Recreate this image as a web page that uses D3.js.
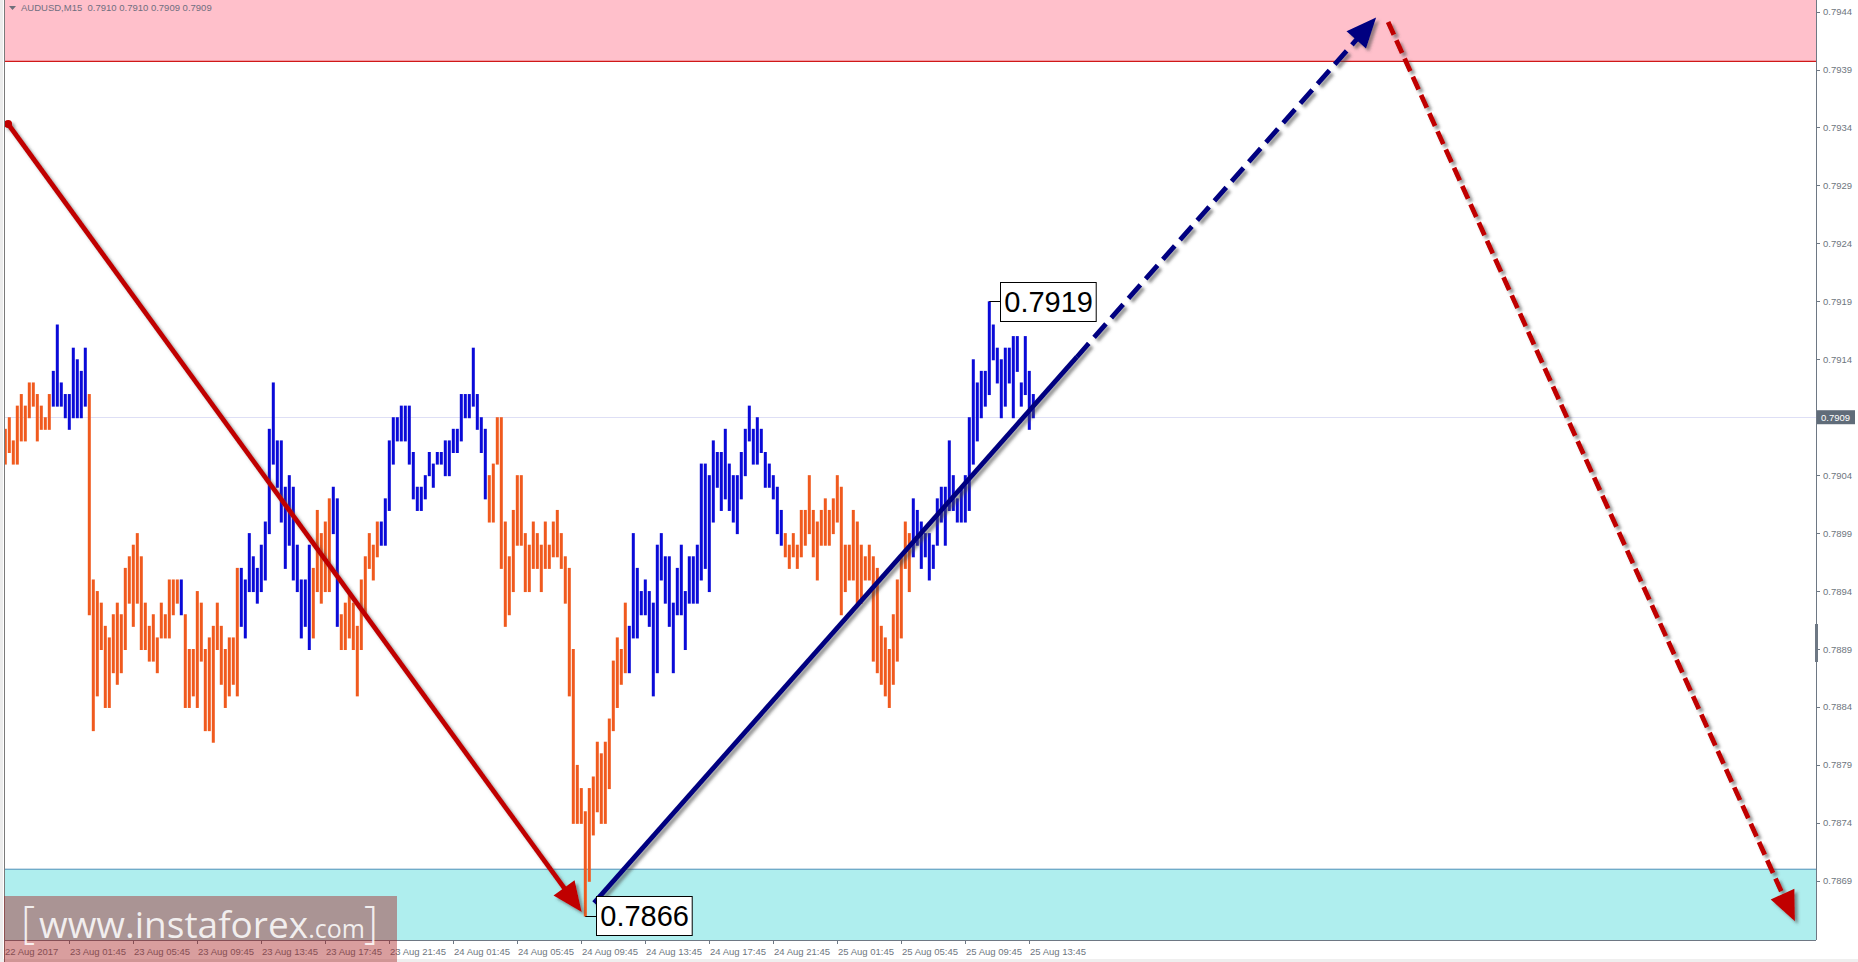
<!DOCTYPE html>
<html><head><meta charset="utf-8">
<script src="https://cdn.jsdelivr.net/npm/d3@7"></script>
<style>html,body{margin:0;padding:0;background:#fff;overflow:hidden}</style>
</head><body>
<svg id="c" width="1858" height="962"></svg>
<script>
// ---------- DATA ----------
const symbolTitle = "AUDUSD,M15  0.7910 0.7910 0.7909 0.7909";
const barHigh = [
.7908,.7909,.7907,.7910,.7911,.7910,.7912,.7912,.7911,.7910,.7909,.7911,
.7913,.7917,.7912,.7911,.7911,.7915,.7914,.7913,.7915,
.7911,.7895,.7894,.7893,.7891,.7890,.7892,.7893,.7892,.7896,
.7897,.7898,.7899,.7897,.7893,.7891,.7892,.7890,.7893,.7892,
.7895,.7895,.7895,.7895,.7892,.7889,.7889,.7894,.7893,.7889,
.7890,.7891,.7893,.7891,.7889,.7890,.7890,.7896,.7896,.7895,
.7899,.7897,.7896,.7898,.7900,.7908,.7912,.7907,.7907,.7903,
.7904,.7903,.7898,.7895,.7895,.7898,.7896,.7901,.7899,.7900,
.7902,.7903,.7902,.7892,.7893,.7894,.7893,.7891,.7895,.7897,
.7899,.7898,.7900,.7900,.7902,.7907,.7909,.7909,.7910,.7910,
.7910,.7906,.7903,.7903,.7904,.7906,.7905,.7906,.7906,.7907,
.7907,.7908,.7908,.7911,.7911,.7911,.7915,.7911,.7909,.7908,
.7904,.7905,.7909,.7909,.7900,.7897,.7901,.7904,.7904,.7899,
.7898,.7900,.7899,.7898,.7900,.7898,.7900,.7901,.7899,.7897,
.7896,.7889,.7879,.7877,.7875,.7877,.7878,.7881,.7880,.7881,
.7883,.7888,.7890,.7889,.7893,.7891,.7899,.7896,.7894,.7895,
.7894,.7893,.7898,.7899,.7897,.7897,.7893,.7896,.7898,.7894,
.7897,.7897,.7898,.7905,.7905,.7904,.7907,.7906,.7906,.7908,
.7905,.7904,.7904,.7906,.7908,.7910,.7908,.7909,.7908,.7906,
.7905,.7904,.7903,.7901,.7899,.7898,.7899,.7898,.7901,.7901,
.7904,.7901,.7900,.7901,.7902,.7901,.7902,.7904,.7903,.7898,
.7898,.7901,.7900,.7898,.7897,.7898,.7897,.7896,.7891,.7890,
.7889,.7892,.7895,.7897,.7900,.7899,.7902,.7901,.7900,.7899,
.7899,.7898,.7902,.7903,.7903,.7907,.7904,.7902,.7903,.7904,
.7909,.7914,.7912,.7913,.7913,.7919,.7917,.7915,.7914,.7915,
.7915,.7916,.7916,.7912,.7916,.7913,.7911];
const barLow = [
.7905,.7906,.7905,.7905,.7907,.7907,.7909,.7910,.7907,.7908,.7908,.7908,
.7910,.7910,.7910,.7909,.7908,.7909,.7909,.7909,.7910,
.7892,.7882,.7885,.7889,.7884,.7884,.7887,.7886,.7887,.7889,
.7893,.7891,.7893,.7889,.7889,.7888,.7888,.7887,.7890,.7890,
.7890,.7892,.7893,.7892,.7884,.7884,.7885,.7884,.7888,.7882,
.7882,.7881,.7889,.7886,.7884,.7885,.7886,.7885,.7891,.7890,
.7894,.7894,.7893,.7894,.7895,.7899,.7905,.7903,.7900,.7896,
.7898,.7895,.7894,.7890,.7891,.7889,.7890,.7894,.7893,.7894,
.7894,.7899,.7891,.7889,.7889,.7890,.7889,.7885,.7889,.7892,
.7896,.7895,.7897,.7898,.7898,.7901,.7905,.7907,.7907,.7907,
.7905,.7902,.7901,.7901,.7902,.7904,.7903,.7905,.7905,.7904,
.7904,.7906,.7906,.7907,.7909,.7909,.7910,.7908,.7906,.7902,
.7900,.7900,.7905,.7896,.7891,.7892,.7894,.7898,.7898,.7894,
.7894,.7896,.7896,.7894,.7896,.7896,.7897,.7897,.7896,.7893,
.7885,.7874,.7874,.7874,.7866,.7869,.7873,.7875,.7874,.7874,
.7877,.7882,.7884,.7886,.7887,.7887,.7890,.7890,.7892,.7892,
.7891,.7885,.7887,.7895,.7893,.7891,.7887,.7892,.7892,.7889,
.7893,.7893,.7893,.7895,.7896,.7894,.7900,.7903,.7901,.7902,
.7901,.7900,.7899,.7902,.7904,.7907,.7905,.7905,.7906,.7903,
.7903,.7902,.7899,.7898,.7897,.7896,.7897,.7896,.7897,.7898,
.7899,.7897,.7895,.7898,.7898,.7898,.7899,.7900,.7892,.7894,
.7895,.7895,.7893,.7893,.7895,.7895,.7888,.7887,.7886,.7885,
.7884,.7886,.7888,.7890,.7896,.7894,.7897,.7898,.7896,.7897,
.7895,.7896,.7898,.7900,.7898,.7901,.7901,.7900,.7900,.7900,
.7901,.7905,.7907,.7909,.7910,.7911,.7914,.7912,.7909,.7910,
.7912,.7909,.7913,.7910,.7911,.7908,.7909];
// O = bearish-wave (orange) bar, B = bullish-wave (blue) bar
const barColor = ("OOOOOOOOOOOO"+"BBBBBBBBB"+"OOOOOOOOOOOOOOOOOOOOOOO"+"B"+"OOOOOOOOOOOOOO"+
  "BBBBBBBBBBBBBBBBBB"+"OOOOO"+"BB"+"OOOOOOOOOO"+"BBBBBBBBBBBBBBBBBBBBBBBBBBB"+
  "OOOOOOOOOOOOOOOOOOOOOOOOOOOOOOOOOOO"+"BBBBBBBBBBBBBBBBBBBBBBBBBBBBBBBBBBBBBBB"+
  "OOOOOOOOOOOOOOOOOOOOOOOOOOOOOOOO"+"BBBBBBBBBBBBBBBBBBBBBBBBBBBBBBB").split("");

const priceTicks = [0.7869,0.7874,0.7879,0.7884,0.7889,0.7894,0.7899,0.7904,0.7914,0.7919,0.7924,0.7929,0.7934,0.7939,0.7944];
const timeTickIndex = [0,16,32,48,64,80,96,112,128,144,160,176,192,208,224,240,256];
const timeTickLabels = ["22 Aug 2017","23 Aug 01:45","23 Aug 05:45","23 Aug 09:45","23 Aug 13:45","23 Aug 17:45",
  "23 Aug 21:45","24 Aug 01:45","24 Aug 05:45","24 Aug 09:45","24 Aug 13:45","24 Aug 17:45","24 Aug 21:45",
  "25 Aug 01:45","25 Aug 05:45","25 Aug 09:45","25 Aug 13:45"];
const currentPrice = 0.7909;
// resistance / support zones (price bounds)
const resistanceZone = [0.79397, 0.7960];
const supportZone = [0.7870, 0.7860];
// wave arrows: [bar index, price]
const waveDown = [[0.7, 0.79343],[144.1, 0.78663]];
const waveUpSolid = [[147.2, 0.78671],[267.9, 0.79142]];
const waveUpDashed = [[267.9, 0.79142],[342.7, 0.79435]];
const waveDownDashed = [[345.7, 0.79431],[447.4, 0.78655]];
// price labels: [bar index, price, text]
const priceLabels = [[246, 0.7919, "0.7919"],[145, 0.7866, "0.7866"]];

// ---------- LAYOUT ----------
const W=1858,H=962, plotL=4, plotR=1816, plotT=0, plotB=940;
const svg = d3.select("#c");
const x = d3.scaleLinear().domain([0,257]).range([5.3,1033.3]);
const y = d3.scaleLinear().domain([0.7869,0.7944]).range([880.8,11.6]);

const defs = svg.append("defs");
const f = defs.append("filter").attr("id","sh").attr("x","-20%").attr("y","-20%").attr("width","140%").attr("height","140%");
f.append("feDropShadow").attr("dx",3).attr("dy",3).attr("stdDeviation",1.6).attr("flood-color","#444").attr("flood-opacity",0.55);
defs.append("clipPath").attr("id","plot").append("rect").attr("x",plotL+1).attr("y",plotT).attr("width",plotR-plotL-1).attr("height",plotB-plotT);

// background
svg.append("rect").attr("width",W).attr("height",H).attr("fill","#fff");
svg.append("rect").attr("x",0).attr("y",0).attr("width",3).attr("height",H).attr("fill","#ececec");
svg.append("rect").attr("x",0).attr("y",959).attr("width",W).attr("height",3).attr("fill","#efefef");
const plot = svg.append("g").attr("clip-path","url(#plot)");

// zones
plot.append("rect").attr("x",plotL).attr("width",plotR-plotL)
  .attr("y",plotT).attr("height",y(resistanceZone[0])-plotT).attr("fill","#ffc0cb");
plot.append("line").attr("x1",plotL).attr("x2",plotR).attr("y1",y(resistanceZone[0])).attr("y2",y(resistanceZone[0]))
  .attr("stroke","#d01818").attr("stroke-width",1.2);
plot.append("rect").attr("x",plotL).attr("width",plotR-plotL)
  .attr("y",y(supportZone[0])).attr("height",plotB-y(supportZone[0])).attr("fill","#afeeee");
plot.append("line").attr("x1",plotL).attr("x2",plotR).attr("y1",y(supportZone[0])).attr("y2",y(supportZone[0]))
  .attr("stroke","#4f8fb8").attr("stroke-width",1);

// current price line
plot.append("line").attr("x1",plotL).attr("x2",plotR).attr("y1",Math.round(y(currentPrice))+0.5).attr("y2",Math.round(y(currentPrice))+0.5)
  .attr("stroke","#dedff5").attr("stroke-width",1);

// bars
const colorMap = {O:"#f05a1e", B:"#0a0ad8"};
plot.append("g").selectAll("rect").data(barHigh.map((h,i)=>({i,h,l:barLow[i],c:barColor[i]})))
  .join("rect")
  .attr("x",d=>x(d.i)-1.5).attr("width",3)
  .attr("y",d=>y(d.h)).attr("height",d=>Math.max(1,y(d.l)-y(d.h)+1))
  .attr("fill",d=>colorMap[d.c]);

// arrows
const line = d3.line().x(d=>x(d[0])).y(d=>y(d[1]));
function arrowHead(g, pts, color, len, hw){
  const a=[x(pts[0][0]),y(pts[0][1])], b=[x(pts[1][0]),y(pts[1][1])];
  const dx=b[0]-a[0], dy=b[1]-a[1], L=Math.hypot(dx,dy), ux=dx/L, uy=dy/L, nx=-uy, ny=ux;
  const bx=b[0]-ux*len, by=b[1]-uy*len;
  g.append("path").attr("d",`M${b[0]},${b[1]}L${bx+nx*hw},${by+ny*hw}L${bx-nx*hw},${by-ny*hw}Z`).attr("fill",color);
  return [x.invert(bx+ux*2), y.invert(by+uy*2)];
}
function shaft(g, pts, color, dash){
  const p = g.append("path").attr("d",line(pts)).attr("fill","none").attr("stroke",color).attr("stroke-width",4.8);
  if(dash) p.attr("stroke-dasharray",dash);
  return p;
}
const arrows = plot.append("g").attr("filter","url(#sh)");
// red solid wave down
{
  const g = arrows.append("g");
  const end = arrowHead(g, waveDown, "#c00000", 30, 13);
  shaft(g, [waveDown[0], end], "#c00000");
  g.append("circle").attr("cx",x(waveDown[0][0])).attr("cy",y(waveDown[0][1])).attr("r",4).attr("fill","#c00000");
}
// navy wave up
{
  const g = arrows.append("g");
  shaft(g, waveUpSolid, "#000080");
  const end = arrowHead(g, waveUpDashed, "#000080", 30, 13);
  shaft(g, [waveUpDashed[0], end], "#000080", "18,8");
}
// red dashed projection
{
  const g = arrows.append("g");
  const end = arrowHead(g, waveDownDashed, "#c00000", 30, 13);
  shaft(g, [waveDownDashed[0], end], "#c00000", "14,6");
}

// price labels
priceLabels.forEach(([i,p,t])=>{
  const bx = x(i), by = y(p);
  const g = plot.append("g");
  const tx = g.append("text").text(t).attr("font-family","Liberation Sans, Arial, sans-serif").attr("font-size",29)
    .attr("fill","#000").attr("x",bx+15).attr("y",by+10.5);
  const tw = tx.node().getComputedTextLength();
  g.insert("rect","text").attr("x",Math.round(bx+11)+0.5).attr("y",Math.round(by-19.5)+0.5).attr("width",tw+7).attr("height",39)
    .attr("fill","#fff").attr("stroke","#000").attr("stroke-width",1);
  g.append("line").attr("x1",bx).attr("x2",bx+11).attr("y1",Math.round(by)+0.5).attr("y2",Math.round(by)+0.5).attr("stroke","#000");
});

// frame lines
svg.append("line").attr("x1",plotL+0.5).attr("x2",plotL+0.5).attr("y1",0).attr("y2",H).attr("stroke","#7a7a7a");
svg.append("line").attr("x1",plotR+0.5).attr("x2",plotR+0.5).attr("y1",0).attr("y2",plotB).attr("stroke","#6e7884");
svg.append("line").attr("x1",plotL).attr("x2",plotR).attr("y1",plotB+0.5).attr("y2",plotB+0.5).attr("stroke","#6e7884");

// right price axis
const axisFont = "Liberation Sans, Arial, sans-serif";
const ya = svg.append("g");
ya.selectAll("line").data(priceTicks).join("line")
  .attr("x1",plotR).attr("x2",plotR+4).attr("y1",d=>Math.round(y(d))+0.5).attr("y2",d=>Math.round(y(d))+0.5).attr("stroke","#6e7884");
ya.selectAll("text").data(priceTicks).join("text")
  .attr("x",plotR+7).attr("y",d=>y(d)+3.5).text(d=>d.toFixed(4))
  .attr("font-family",axisFont).attr("font-size",9.5).attr("fill","#6e7680");
// current price tag
svg.append("rect").attr("x",plotR+1).attr("y",y(currentPrice)-7).attr("width",38).attr("height",14).attr("fill","#606c79");
svg.append("text").attr("x",plotR+5).attr("y",y(currentPrice)+3.5).text(currentPrice.toFixed(4))
  .attr("font-family",axisFont).attr("font-size",9.5).attr("fill","#fff");
svg.append("rect").attr("x",plotR-1).attr("y",624).attr("width",3).attr("height",38).attr("fill","#6e7884");

// bottom time axis
const xa = svg.append("g");
timeTickIndex.forEach((ti,k)=>{
  const px = Math.round(x(ti));
  if(k>0) xa.append("line").attr("x1",px+0.5).attr("x2",px+0.5).attr("y1",plotB).attr("y2",plotB+4).attr("stroke","#6e7884");
  xa.append("text").attr("x",k===0?5:px+1).attr("y",955).text(timeTickLabels[k])
    .attr("font-family",axisFont).attr("font-size",9.5).attr("fill","#6e7680");
});

// header
svg.append("path").attr("d","M9,6L16,6L12.5,10Z").attr("fill","#6f6f7a");
svg.append("text").attr("x",21).attr("y",11).text(symbolTitle).style("white-space","pre")
  .attr("font-family",axisFont).attr("font-size",9.5).attr("fill","#6f6f80");

// watermark
const wm = svg.append("g");
wm.append("rect").attr("x",4).attr("y",896).attr("width",393).attr("height",66).attr("fill","rgba(165,25,25,0.42)");
const wt = wm.append("text").attr("y",938).attr("font-family","Open Sans, sans-serif").attr("fill","rgba(255,255,255,0.85)");
wt.append("tspan").attr("x",21).attr("font-size",44).attr("font-weight",300).text("[");
wt.append("tspan").attr("x",39).attr("font-size",37).text("www.instaforex");
wt.append("tspan").attr("font-size",25).text(".com");
wt.append("tspan").attr("x",364).attr("font-size",44).attr("font-weight",300).text("]");
</script>
</body></html>
